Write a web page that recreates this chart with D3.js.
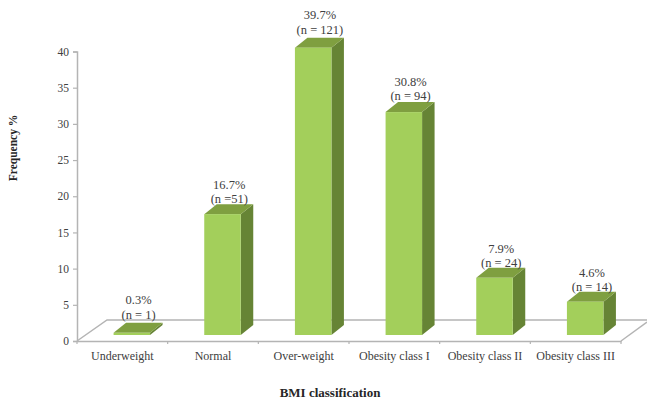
<!DOCTYPE html>
<html>
<head>
<meta charset="utf-8">
<script src="https://cdn.jsdelivr.net/npm/d3@7"></script>
<style>
html, body { margin: 0; padding: 0; background: #fff; }
svg { display: block; }
text { font-family: "Liberation Serif", serif; }
</style>
</head>
<body>
<svg id="chart" width="647" height="400"></svg>
<script>
const categories = ["Underweight", "Normal", "Over-weight", "Obesity class I", "Obesity class II", "Obesity class III"];
const percents = [0.3, 16.7, 39.7, 30.8, 7.9, 4.6];
const percentLabels = ["0.3%", "16.7%", "39.7%", "30.8%", "7.9%", "4.6%"];
const countLabels = ["(n = 1)", "(n =51)", "(n = 121)", "(n = 94)", "(n = 24)", "(n = 14)"];
const yTicks = [0, 5, 10, 15, 20, 25, 30, 35, 40];

const svg = d3.select("#chart");
const x = d3.scaleBand().domain(categories).range([77, 621]);
const y = d3.scaleLinear().domain([0, 40]).range([341, 51.5]);

// Oblique projection used for the floor and the bar solids
const floorDx = 30, floorDy = 21, barDx = 12.5, barDy = 10;
const barWidth = 36.5, barShift = 9.5, baseLift = 6;

// Hand-placed vertical nudges for the value labels
const labelNudge = [-1, 2, -1, 1, 2.5, 2.5];

const axisColor = "#b4b4b4", textColor = "#404040";

// Floor outline behind the bars
const floor = svg.append("g").attr("fill", "none").attr("stroke", axisColor).attr("stroke-width", 1.5);
floor.append("path").attr("d", `M${x.range()[0]},${y(0)}l${floorDx},${-floorDy}H647`);
floor.append("path").attr("d", `M${x.range()[1]},${y(0)}L647,${y(0) - 19}`);

// Axes
const yAxis = svg.append("g").attr("transform", `translate(${x.range()[0]},0)`)
  .call(d3.axisLeft(y).tickValues(yTicks).tickSize(4).tickPadding(4));
const xAxis = svg.append("g").attr("transform", `translate(0,${y(0)})`)
  .call(d3.axisBottom(x).tickSize(0).tickPadding(10));
xAxis.selectAll(".edge").data(d3.range(categories.length + 1)).enter().append("line")
  .attr("x1", i => x.range()[0] + i * x.step()).attr("x2", i => x.range()[0] + i * x.step())
  .attr("y1", 0).attr("y2", 3).attr("stroke", axisColor).attr("stroke-width", 1.2);
[yAxis, xAxis].forEach(a => {
  a.selectAll(".domain").attr("stroke", axisColor).attr("stroke-width", 1.5);
  a.selectAll(".tick line").attr("stroke", axisColor).attr("stroke-width", 1.2);
  a.selectAll("text").attr("fill", textColor)
    .attr("font-family", '"Liberation Serif", serif');
});
yAxis.selectAll("text").attr("font-size", 11.5);
xAxis.selectAll("text").attr("font-size", 12);

// Bars: front, side and top faces
const bars = svg.append("g").selectAll("g").data(categories).enter().append("g");
const left = d => x(d) + x.bandwidth() / 2 - barWidth / 2 + barShift;
const top_ = (d, i) => y(percents[i]) - baseLift;
const bottom = y(0) - baseLift;

bars.append("path").attr("fill", "#668435")
  .attr("d", (d, i) => `M${left(d) + barWidth},${top_(d, i)}l${barDx},${-barDy}V${bottom - barDy}l${-barDx},${barDy}Z`);
bars.append("path").attr("fill", "#7f9f40")
  .attr("d", (d, i) => `M${left(d)},${top_(d, i)}l${barDx},${-barDy}h${barWidth}l${-barDx},${barDy}Z`);
bars.append("rect").attr("fill", "#a3cf5b")
  .attr("x", left).attr("y", top_).attr("width", barWidth)
  .attr("height", (d, i) => bottom - top_(d, i));

// Value labels above each bar
const labels = svg.append("g").attr("text-anchor", "middle").attr("fill", textColor).attr("font-size", 12.5);
categories.forEach((c, i) => {
  const cx = left(c) + barWidth / 2 + barDx / 2 + 0.5;
  const base = top_(c, i) - barDy - 3 + labelNudge[i];
  labels.append("text").attr("x", cx).attr("y", base).text(countLabels[i]);
  labels.append("text").attr("x", cx).attr("y", base - 14.5).text(percentLabels[i]);
});

// Axis titles
svg.append("text").attr("transform", "translate(17,148) rotate(-90)")
  .attr("text-anchor", "middle").attr("font-size", 11.5).attr("font-weight", "bold")
  .attr("fill", "#262626").text("Frequency %");
svg.append("text").attr("x", 330).attr("y", 397)
  .attr("text-anchor", "middle").attr("font-size", 13).attr("font-weight", "bold")
  .attr("fill", "#262626").text("BMI classification");
</script>
</body>
</html>
